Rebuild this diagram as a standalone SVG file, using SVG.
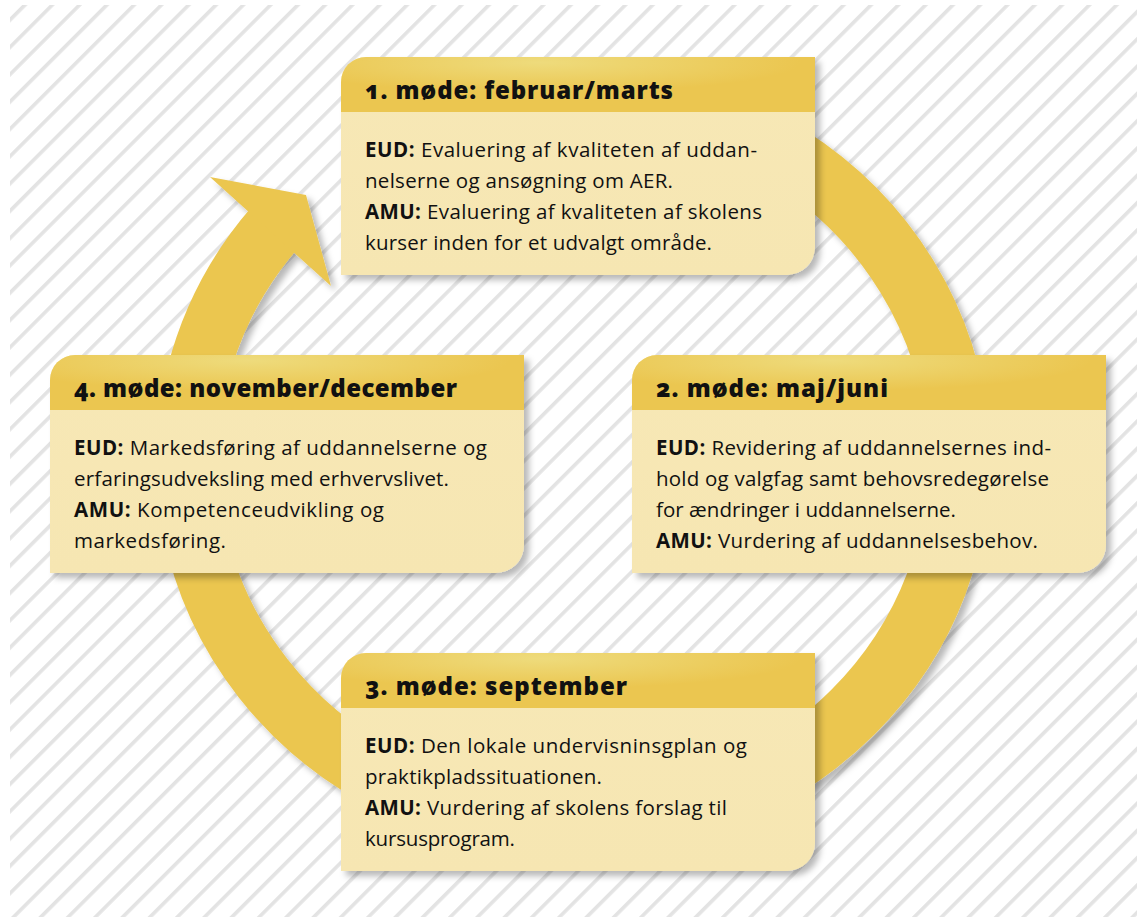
<svg xmlns="http://www.w3.org/2000/svg" width="1137" height="917" viewBox="0 0 1137 917">
<style>
.body{fill:url(#bodyGrad)}
.head{fill:url(#headGrad)}
.title{font-family:"Open Sans",Lato,"Liberation Sans",sans-serif;font-weight:800;font-size:24px;fill:#111;font-variant-numeric:oldstyle-nums}
.txt{font-family:"Open Sans",Lato,"Liberation Sans",sans-serif;font-size:20.5px;fill:#111}
.b{font-weight:700}
</style>
<defs>
<pattern id="stripes" patternUnits="userSpaceOnUse" width="19.3" height="19.3" patternTransform="rotate(45)">
<rect x="0" y="0" width="3.6" height="19.3" fill="#e3e3e3"/>
</pattern>
<radialGradient id="headGrad" cx="0.42" cy="0.1" r="0.55">
<stop offset="0" stop-color="#eedb7c"/>
<stop offset="1" stop-color="#ebc650"/>
</radialGradient>
<linearGradient id="bodyGrad" x1="0" y1="0" x2="0" y2="1">
<stop offset="0" stop-color="#f7e8b6"/>
<stop offset="1" stop-color="#f6e6b2"/>
</linearGradient>
<filter id="shadow" x="-10%" y="-10%" width="125%" height="125%">
<feDropShadow dx="5" dy="5" stdDeviation="3" flood-color="#000" flood-opacity="0.28"/>
</filter>
<path id="boxBody" d="M0 25 A25 25 0 0 1 25 0 H474 V190 A28 28 0 0 1 446 218 H0 Z"/>
<path id="boxHead" d="M0 25 A25 25 0 0 1 25 0 H474 V55 H0 Z"/>
</defs>
<rect x="0" y="0" width="1137" height="917" fill="#ffffff"/>
<rect x="10" y="5" width="1127" height="912" fill="url(#stripes)"/>
<g id="connectors" filter="url(#shadow)">
<path d="M275.2 227.2 A386 366 0 1 0 640 99.6" fill="none" stroke="#ebc650" stroke-width="62"/>
<polygon points="210,177 306,195 331,286" fill="#ebc650"/>
</g>
<g id="node1" transform="translate(341,57)">
<use href="#boxBody" class="body" filter="url(#shadow)"/>
<use href="#boxHead" class="head"/>
<text class="title" x="24" y="42" textLength="308">1. møde: februar/marts</text>
<text class="txt" x="24" y="100" textLength="392"><tspan class="b">EUD:</tspan> Evaluering af kvaliteten af uddan-</text>
<text class="txt" x="24" y="131" textLength="308">nelserne og ansøgning om AER.</text>
<text class="txt" x="24" y="162" textLength="397"><tspan class="b">AMU:</tspan> Evaluering af kvaliteten af skolens</text>
<text class="txt" x="24" y="193" textLength="347">kurser inden for et udvalgt område.</text>
</g>
<g id="node2" transform="translate(632,355)">
<use href="#boxBody" class="body" filter="url(#shadow)"/>
<use href="#boxHead" class="head"/>
<text class="title" x="24" y="42" textLength="232">2. møde: maj/juni</text>
<text class="txt" x="24" y="100" textLength="395"><tspan class="b">EUD:</tspan> Revidering af uddannelsernes ind-</text>
<text class="txt" x="24" y="131" textLength="393">hold og valgfag samt behovsredegørelse</text>
<text class="txt" x="24" y="162" textLength="300">for ændringer i uddannelserne.</text>
<text class="txt" x="24" y="193" textLength="382"><tspan class="b">AMU:</tspan> Vurdering af uddannelsesbehov.</text>
</g>
<g id="node3" transform="translate(341,653)">
<use href="#boxBody" class="body" filter="url(#shadow)"/>
<use href="#boxHead" class="head"/>
<text class="title" x="24" y="42" textLength="262">3. møde: september</text>
<text class="txt" x="24" y="100" textLength="382"><tspan class="b">EUD:</tspan> Den lokale undervisninsgplan og</text>
<text class="txt" x="24" y="131" textLength="237">praktikpladssituationen.</text>
<text class="txt" x="24" y="162" textLength="362"><tspan class="b">AMU:</tspan> Vurdering af skolens forslag til</text>
<text class="txt" x="24" y="193" textLength="150">kursusprogram.</text>
</g>
<g id="node4" transform="translate(50,355)">
<use href="#boxBody" class="body" filter="url(#shadow)"/>
<use href="#boxHead" class="head"/>
<text class="title" x="24" y="42" textLength="383">4. møde: november/december</text>
<text class="txt" x="24" y="100" textLength="413"><tspan class="b">EUD:</tspan> Markedsføring af uddannelserne og</text>
<text class="txt" x="24" y="131" textLength="375">erfaringsudveksling med erhvervslivet.</text>
<text class="txt" x="24" y="162" textLength="310"><tspan class="b">AMU:</tspan> Kompetenceudvikling og</text>
<text class="txt" x="24" y="193" textLength="152">markedsføring.</text>
</g>
</svg>
